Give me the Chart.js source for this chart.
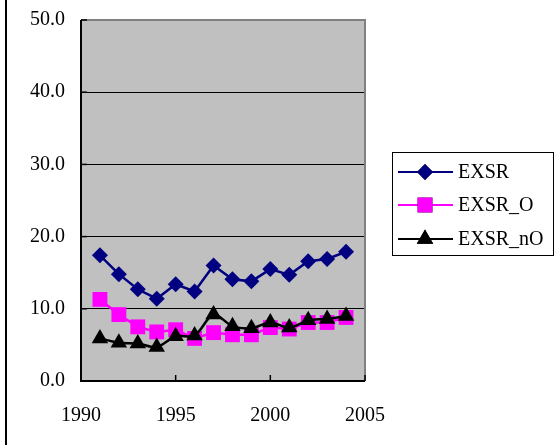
<!DOCTYPE html>
<html>
<head>
<meta charset="utf-8">
<script src="https://cdn.jsdelivr.net/npm/chart.js@4"></script>
<style>
  html, body { margin: 0; padding: 0; background: #fff; }
  #wrap { position: relative; width: 555px; height: 445px; }
</style>
</head>
<body>
<div id="wrap"><canvas id="myChart" width="555" height="445"></canvas></div>
<script>
// data
const years = [1991, 1992, 1993, 1994, 1995, 1996, 1997, 1998, 1999, 2000, 2001, 2002, 2003, 2004];
const exsr = [17.4, 14.8, 12.7, 11.4, 13.4, 12.4, 16.0, 14.1, 13.8, 15.5, 14.7, 16.6, 16.9, 17.9];
const exsrO = [11.3, 9.2, 7.5, 6.8, 7.1, 5.9, 6.7, 6.4, 6.4, 7.4, 7.2, 8.1, 8.1, 8.8];
const exsrNO = [5.9, 5.3, 5.2, 4.7, 6.2, 6.3, 9.2, 7.6, 7.3, 8.1, 7.4, 8.4, 8.6, 9.0];
const seriesNames = ['EXSR', 'EXSR_O', 'EXSR_nO'];
const xTicks = [1990, 1995, 2000, 2005];
const yTicks = [0, 10, 20, 30, 40, 50];

const FONT = '"Liberation Serif", "DejaVu Serif", serif';

function pts(vals) {
    return years.map((y, i) => ({ x: y, y: vals[i] }))
}

// gray plot background, frame, inner ticks and a boxed legend
const framePlugin = {
    id: 'frame',
    beforeDraw(chart) {
        const { ctx, chartArea: a } = chart
        ctx.save()
        ctx.fillStyle = '#C0C0C0'
        ctx.fillRect(a.left, a.top, a.right - a.left, a.bottom - a.top)
        ctx.restore()
    },
    beforeDatasetsDraw(chart) {
        const { ctx, chartArea: a, scales } = chart
        ctx.save()
        // top / right edge gray
        ctx.strokeStyle = '#808080'
        ctx.lineWidth = 2
        ctx.beginPath()
        ctx.moveTo(a.left, a.top)
        ctx.lineTo(a.right, a.top)
        ctx.lineTo(a.right, a.bottom)
        ctx.stroke()
        // left and bottom axis lines
        ctx.strokeStyle = '#000'
        ctx.beginPath()
        ctx.moveTo(a.left, a.top)
        ctx.lineTo(a.left, a.bottom)
        ctx.lineTo(a.right, a.bottom)
        ctx.stroke()
        // inner ticks on x
        ctx.lineWidth = 1.5
        xTicks.forEach(v => {
            const px = scales.x.getPixelForValue(v)
            ctx.beginPath()
            ctx.moveTo(px, a.bottom)
            ctx.lineTo(px, a.bottom - 6)
            ctx.stroke()
        })
        // inner ticks on y
        yTicks.forEach(v => {
            const py = scales.y.getPixelForValue(v)
            ctx.beginPath()
            ctx.moveTo(a.left, py)
            ctx.lineTo(a.left + 6, py)
            ctx.stroke()
        })
        ctx.restore()
    },
    afterDraw(chart) {
        const { ctx } = chart
        ctx.save()
        // outer left border of chart frame
        ctx.fillStyle = '#000'
        ctx.fillRect(5, 0, 2, 445)

        // legend box
        const bx = 392, by = 152, bw = 161, bh = 103
        ctx.strokeStyle = '#000'
        ctx.lineWidth = 1
        ctx.strokeRect(bx + 0.5, by + 0.5, bw, bh)
        const rows = [172, 205, 239]
        chart.data.datasets.forEach((ds, i) => {
            const y = rows[i]
            ctx.strokeStyle = ds.borderColor
            ctx.lineWidth = 2
            ctx.beginPath()
            ctx.moveTo(398, y)
            ctx.lineTo(453, y)
            ctx.stroke()
            Chart.helpers.drawPoint(ctx, {
                pointStyle: ds.pointStyle,
                radius: ds.pointRadius,
                borderWidth: 0
            }, 425, y)
            ctx.fillStyle = ds.pointBackgroundColor
            ctx.fill()
            ctx.fillStyle = '#000'
            ctx.font = '20px ' + FONT
            ctx.textBaseline = 'middle'
            ctx.fillText(ds.label, 458, y + 1)
        })
        ctx.restore()
    }
}

const ctx = document.getElementById('myChart')
new Chart(ctx, {
    type: 'line',
    data: {
        datasets: [
            {
                label: seriesNames[0],
                data: pts(exsr),
                borderColor: '#000080',
                backgroundColor: '#000080',
                pointBackgroundColor: '#000080',
                pointBorderWidth: 0,
                pointStyle: 'rectRot',
                pointRadius: 8,
                borderWidth: 2.5,
                tension: 0,
                order: 3
            },
            {
                label: seriesNames[1],
                data: pts(exsrO),
                borderColor: '#FF00FF',
                backgroundColor: '#FF00FF',
                pointBackgroundColor: '#FF00FF',
                pointBorderWidth: 0,
                pointStyle: 'rect',
                pointRadius: 10.5,
                borderWidth: 2.5,
                tension: 0,
                order: 2
            },
            {
                label: seriesNames[2],
                data: pts(exsrNO),
                borderColor: '#000000',
                backgroundColor: '#000000',
                pointBackgroundColor: '#000000',
                pointBorderWidth: 0,
                pointStyle: 'triangle',
                pointRadius: 9.5,
                borderWidth: 2.5,
                tension: 0.3,
                order: 1
            }
        ]
    },
    options: {
        responsive: false,
        animation: false,
        layout: { padding: { left: 0, right: 190, top: 20, bottom: 0 } },
        plugins: {
            legend: { display: false },
            tooltip: { enabled: false }
        },
        scales: {
            x: {
                type: 'linear',
                min: 1990,
                max: 2005,
                afterBuildTicks: (s) => { s.ticks = xTicks.map(v => ({ value: v })) },
                afterFit: (s) => { s.height = 64; s.paddingLeft = 0; s.paddingRight = 0 },
                grid: { display: false, drawTicks: false },
                border: { display: false },
                ticks: {
                    color: '#000',
                    padding: 23,
                    maxRotation: 0,
                    font: { family: FONT, size: 20 },
                    callback: (v) => String(v)
                }
            },
            y: {
                min: 0,
                max: 50,
                afterBuildTicks: (s) => { s.ticks = yTicks.map(v => ({ value: v })) },
                afterFit: (s) => { s.width = 81; s.paddingTop = 0; s.paddingBottom = 0 },
                grid: { color: '#000', lineWidth: 1, drawTicks: false },
                border: { display: false },
                ticks: {
                    color: '#000',
                    padding: 16,
                    font: { family: FONT, size: 20 },
                    callback: (v) => v.toFixed(1)
                }
            }
        }
    },
    plugins: [framePlugin]
});
</script>
</body>
</html>
